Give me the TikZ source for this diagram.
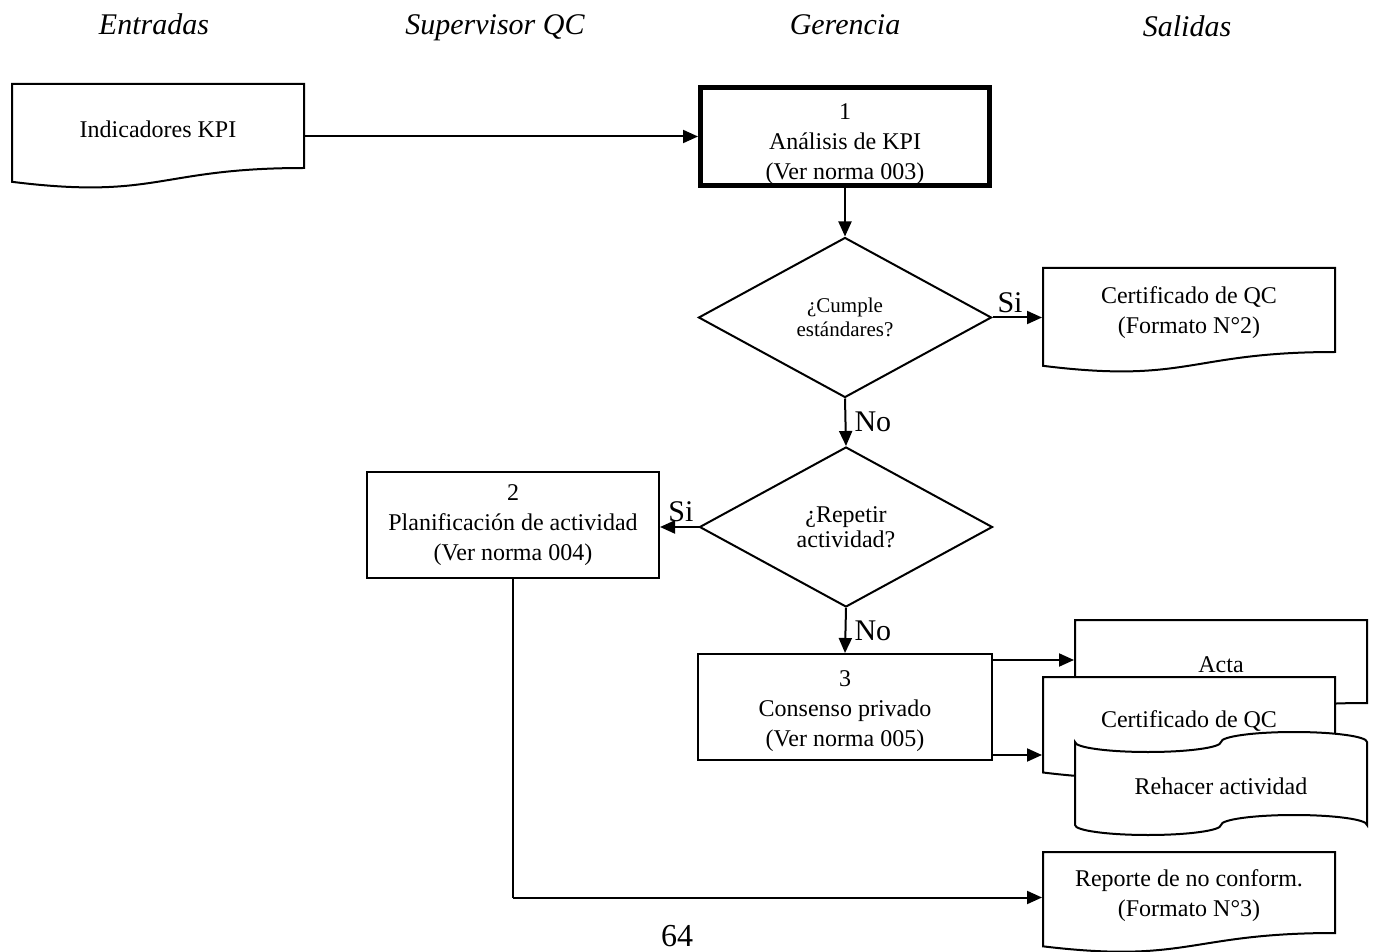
\documentclass[tikz,border=0pt]{standalone}
\usepackage{fontspec}
\setmainfont{Liberation Serif}
\usetikzlibrary{shapes.geometric,arrows.meta,calc}

\newcommand\bodyfont{\fontsize{12pt}{15pt}\selectfont}
% text block pushed down a little, size kept
\newcommand\lowtext[2]{\raisebox{-#1}[\height][\depth]{\begin{tabular}{@{}c@{}}#2\end{tabular}}}
% document outline first, then the named node on top of it
\newcommand\docshape[6]{%
  \draw[fill=white] (#2,#3) -- (#4,#3) -- (#4,#5)
    .. controls ({(#2+#4)/2},#5) and ({(#2+#4)/2},{#5+0.381*(#5-#3)})
    .. (#2,{#5+0.1646*(#5-#3)}) -- cycle;
  \node[docbox, minimum width={(#4-#2)*0.5pt}, minimum height={(#5-#3)*0.5pt}]
    (#1) at ({(#2+#4)/2},{(#3+#5)/2+3}) {#6};}

\begin{document}
\begin{tikzpicture}[x=0.5pt, y=-0.5pt, line width=1pt,
  >={Triangle[length=7.5pt,width=6.5pt]},
  docbox/.style={inner sep=0pt, align=center, font=\bodyfont},
  procbox/.style={draw, inner sep=0pt, align=center, font=\bodyfont,
    minimum width=146pt, minimum height=53pt},
  decision/.style={draw, diamond, inner sep=0pt, align=center,
    minimum width=146.5pt, minimum height=80pt},
  lane/.style={font=\fontsize{15pt}{18pt}\selectfont\itshape, anchor=base},
  answer/.style={font=\fontsize{15pt}{18pt}\selectfont, inner sep=2pt}]

\useasboundingbox (0,0) rectangle (1377,952);

% column titles
\node[lane] (entradas) at (154,35) {Entradas};
\node[lane] (super) at (495,35) {Supervisor QC};
\node[lane] (gerencia) at (845,35) {Gerencia};
\node[lane] (salidas) at (1187,37) {Salidas};

% steps and decisions
\node[procbox, line width=2.5pt, minimum width=144.5pt, minimum height=49pt]
  (ana) at (845,136.5) {\lowtext{3.5pt}{1\\Análisis de KPI\\(Ver norma 003)}};
\node[decision, font=\fontsize{10.5pt}{12pt}\selectfont]
  (cumple) at (845,317.5) {¿Cumple\\estándares?};
\node[decision, font=\fontsize{12pt}{12.5pt}\selectfont]
  (repetir) at (846,527) {¿Repetir\\actividad?};
\node[procbox] (plan) at (513,525) {2\\Planificación de actividad\\(Ver norma 004)};
\node[procbox, minimum width=147pt] (cons) at (845,707) {\lowtext{1.5pt}{3\\Consenso privado\\(Ver norma 005)}};

% documents
\docshape{ind}{12}{84}{304}{168}{Indicadores KPI}
\docshape{cert}{1043}{268}{1335}{352}{Certificado de QC\\(Formato N°2)}
\docshape{acta}{1075}{620}{1367}{703}{Acta}
\docshape{certb}{1043}{677}{1335}{759}{Certificado de QC}
\draw[fill=white] (1075,742)
    arc[start angle=180, end angle=360, x radius=36.5pt, y radius=5pt]
    arc[start angle=180, end angle=0, x radius=36.5pt, y radius=5pt]
    -- (1367,825)
    arc[start angle=0, end angle=180, x radius=36.5pt, y radius=5pt]
    arc[start angle=360, end angle=180, x radius=36.5pt, y radius=5pt] -- cycle;
\node[docbox, minimum width=146pt, minimum height=42pt] (rehacer) at (1221,786) {Rehacer actividad};
\docshape{reporte}{1043}{852}{1335}{933}{Reporte de no conform.\\(Formato N°3)}

\node[anchor=base, font=\fontsize{16pt}{18pt}\selectfont] (pagina) at (677,946) {64};

% connectors
\draw[->] (ind.east |- ana.west) -- (ana.west);
\draw[->] (ana.south) -- (cumple.north);
\draw[->] (cumple.east) -- (cumple.east -| cert.west) node[answer, pos=0, anchor=south west] {Si};
\draw[->] (cumple.south) -- (repetir.north) node[answer, midway, right, xshift=2pt] {No};
\draw[->] (repetir.west) -- (repetir.west -| plan.east) node[answer, pos=0, anchor=south east] {Si};
\draw[->] (repetir.south) -- (cons.north) node[answer, midway, right, xshift=2pt] {No};
\coordinate (consin) at ([yshift=-3.5pt]cons.north east);
\draw[->] (consin) -- (consin -| acta.west);
\coordinate (consout) at ([yshift=3pt]cons.south east);
\draw[->] (consout) -- (consout -| certb.west);
\coordinate (repin) at ([yshift=-1pt]reporte.west);
\draw[line width=0.75pt] (plan.south) -- (plan.south |- repin);
\draw[->] (plan.south |- repin) -- (repin);
\end{tikzpicture}
\end{document}
